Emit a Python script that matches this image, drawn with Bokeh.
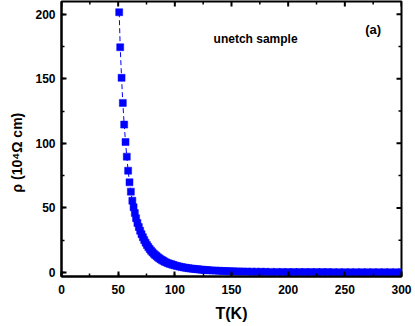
from bokeh.plotting import figure
from bokeh.models import Range1d, SingleIntervalTicker, Label
from bokeh.embed import file_html
from bokeh.resources import INLINE

# ---- data ----
temperature_K = [
    50.9, 51.8, 53.0, 54.1, 55.3, 56.5, 57.6, 58.8, 60.0, 61.2, 62.5,
    63.6, 64.7, 65.8, 67.0, 68.2, 69.4, 70.6, 71.8, 73.0, 74.2, 75.4,
    76.6, 77.8, 79.0, 80.2, 81.4, 82.6, 83.8, 85.0, 86.2, 87.4, 88.6,
    89.8, 91.0, 92.5, 94.0, 95.5, 97.0, 98.5, 100, 102, 104, 106, 108,
    110, 112, 114, 116, 118, 120, 122, 124, 126, 128, 130, 133, 136,
    139, 142, 145, 148, 151, 154, 157, 160, 164, 168, 172, 176, 180,
    185, 190, 195, 200, 205, 210, 215, 220, 225, 230, 235, 240, 245,
    250, 255, 260, 265, 270, 275, 280, 285, 290, 295, 300,
]
resistivity = [
    201.5, 174.4, 150.7, 131.3, 114.5, 101.0, 89.7, 78.8, 69.8, 62.6, 55.6,
    50.5, 46.0, 42.0, 38.4, 35.2, 32.3, 29.7, 27.3, 25.1, 23.1, 21.3,
    19.7, 18.2, 16.9, 15.7, 14.6, 13.6, 12.7, 11.8, 11.0, 10.3, 9.6,
    9.0, 8.4, 7.8, 7.2, 6.7, 6.3, 5.9, 5.5, 5.0, 4.6, 4.2, 3.9,
    3.6, 3.3, 3.1, 2.9, 2.7, 2.5, 2.3, 2.15, 2.0, 1.87, 1.75, 1.6, 1.45,
    1.32, 1.2, 1.1, 1.0, 0.92, 0.85, 0.79, 0.74, 0.68, 0.63, 0.58, 0.54, 0.5,
    0.47, 0.44, 0.41, 0.39, 0.37, 0.35, 0.33, 0.32, 0.31, 0.30, 0.29, 0.28, 0.27,
    0.26, 0.25, 0.25, 0.24, 0.23, 0.23, 0.22, 0.22, 0.21, 0.21, 0.20,
]
x_major_ticks = [0, 50, 100, 150, 200, 250, 300]
x_minor_ticks = [25, 75, 125, 175, 225, 275]
y_major_ticks = [0, 50, 100, 150, 200]
y_minor_ticks = [25, 75, 125, 175]
sample_text = "unetch sample"
panel_text = "(a)"
x_label = "T(K)"
y_label = "ρ (10⁴Ω cm)"

FONT = "Liberation Sans"
BLUE = "#0000FF"
X0, X1 = 0, 300
Y0, Y1 = -3.1, 209.8

p = figure(width=415, height=326, output_backend="svg", toolbar_location=None,
           x_range=Range1d(X0, X1), y_range=Range1d(Y0, Y1),
           min_border_left=61, min_border_right=14, min_border_top=1,
           min_border_bottom=50, background_fill_color="white",
           border_fill_color="white")
p.xgrid.visible = False
p.ygrid.visible = False
p.outline_line_color = "black"
p.outline_line_width = 2
p.outline_line_alpha = 1.0


def style_axis(ax, step):
    ax.ticker = SingleIntervalTicker(interval=step, num_minor_ticks=2)
    ax.axis_line_width = 2
    ax.axis_line_color = "black"
    ax.major_tick_in = 5
    ax.major_tick_out = 0
    ax.minor_tick_in = 3
    ax.minor_tick_out = 0
    ax.major_tick_line_width = 2
    ax.minor_tick_line_width = 1.5
    ax.major_tick_line_color = "black"
    ax.minor_tick_line_color = "black"
    ax.major_label_text_font = FONT
    ax.major_label_text_font_style = "bold"
    ax.major_label_text_color = "black"
    ax.major_label_text_font_size = "12px"
    ax.axis_label_text_font = FONT
    ax.axis_label_text_font_style = "bold"
    ax.axis_label_text_color = "black"


style_axis(p.xaxis[0], 50)
p.xaxis[0].major_label_standoff = 8
p.xaxis[0].axis_label = x_label
p.xaxis[0].axis_label_text_font_size = "16px"
p.xaxis[0].axis_label_standoff = 8

style_axis(p.yaxis[0], 50)
p.yaxis[0].major_label_standoff = 6
p.yaxis[0].axis_label = y_label + "\u00a0" * 7
p.yaxis[0].axis_label_text_font_size = "14px"
p.yaxis[0].axis_label_standoff = 7

# inward ticks on the top and right frame edges
px_per_x = 340 / (X1 - X0)
px_per_y = 275 / (Y1 - Y0)
p.segment(x0=x_major_ticks, y0=[Y1] * len(x_major_ticks),
          x1=x_major_ticks, y1=[Y1 - 5 / px_per_y] * len(x_major_ticks),
          line_color="black", line_width=2)
p.segment(x0=x_minor_ticks, y0=[Y1] * len(x_minor_ticks),
          x1=x_minor_ticks, y1=[Y1 - 3 / px_per_y] * len(x_minor_ticks),
          line_color="black", line_width=1.5)
p.segment(x0=[X1] * len(y_major_ticks), y0=y_major_ticks,
          x1=[X1 - 5 / px_per_x] * len(y_major_ticks), y1=y_major_ticks,
          line_color="black", line_width=2)
p.segment(x0=[X1] * len(y_minor_ticks), y0=y_minor_ticks,
          x1=[X1 - 3 / px_per_x] * len(y_minor_ticks), y1=y_minor_ticks,
          line_color="black", line_width=1.5)

p.line(temperature_K, resistivity, line_color=BLUE, line_width=1, line_dash="5 3")
p.scatter(temperature_K, resistivity, marker="square", size=7,
          fill_color=BLUE, line_color=BLUE, line_width=0.5)

p.add_layout(Label(x=134.2, y=180.4, text=sample_text, text_font=FONT,
                   text_font_style="bold", text_font_size="12px",
                   text_align="left", text_baseline="alphabetic",
                   text_color="black"))
p.add_layout(Label(x=268, y=187.8, text=panel_text, text_font=FONT,
                   text_font_style="bold", text_font_size="13px",
                   text_align="left", text_baseline="alphabetic",
                   text_color="black"))

open("out.html", "w").write(file_html(p, INLINE))
